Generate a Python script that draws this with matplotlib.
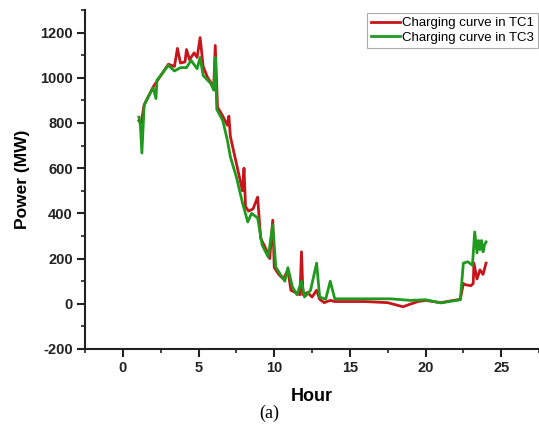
import matplotlib
matplotlib.use("Agg")
import matplotlib.pyplot as plt
from matplotlib.ticker import MultipleLocator

# charging curve in TC1 (red)
hours_tc1 = [1.05, 1.2, 1.4, 1.7, 2.0, 2.3, 2.5, 3.0, 3.4, 3.6, 3.8, 4.1, 4.2, 4.4,
             4.7, 4.9, 5.1, 5.3, 5.6, 6.0, 6.1, 6.25, 6.6, 6.9, 7.0, 7.1, 7.5, 7.9,
             8.0, 8.1, 8.3, 8.6, 8.9, 9.1, 9.4, 9.7, 9.9, 10.0, 10.3, 10.6, 10.9,
             11.1, 11.4, 11.7, 11.8, 11.9, 12.2, 12.5, 12.8, 13.0, 13.3, 13.7, 14.0,
             16.0, 17.5, 18.5, 19.5, 20.0, 21.0, 22.3, 22.5, 22.6, 23.0, 23.15,
             23.2, 23.4, 23.6, 23.8, 24.0]
power_tc1 = [810, 800, 880, 920, 960, 990, 1010, 1060, 1050, 1130, 1065, 1070, 1125, 1080,
             1110, 1090, 1178, 1050, 1000, 960, 1143, 870, 830, 790, 830, 740, 620, 500,
             600, 430, 410, 420, 472, 290, 250, 200, 370, 160, 130, 110, 150,
             60, 50, 40, 230, 40, 50, 30, 60, 20, 5, 15, 10,
             10, 5, -13, 10, 15, 5, 20, 90, 85, 80, 90,
             180, 110, 150, 130, 180]

# charging curve in TC3 (green)
hours_tc3 = [1.05, 1.15, 1.25, 1.4, 1.7, 2.0, 2.18, 2.25, 2.4, 3.0, 3.4, 3.8, 4.2, 4.5,
             4.9, 5.1, 5.3, 5.8, 6.0, 6.1, 6.2, 6.6, 6.9, 7.1, 7.5, 7.9, 8.25, 8.5,
             8.9, 9.2, 9.6, 9.9, 10.1, 10.4, 10.7, 10.9, 11.2, 11.5, 11.8, 12.0, 12.4,
             12.8, 13.0, 13.4, 13.7, 14.0, 16.0, 17.7, 19.0, 20.0, 21.0, 22.3, 22.5,
             22.8, 23.1, 23.25, 23.4, 23.5, 23.6, 23.7, 23.8, 23.9, 24.0]
power_tc3 = [826, 790, 667, 878, 920, 955, 908, 990, 1002, 1055, 1030, 1045, 1045, 1077,
             1040, 1090, 1010, 975, 945, 1090, 860, 810, 724, 650, 560, 446, 362, 400,
             380, 260, 207, 350, 163, 130, 100, 160, 75, 40, 100, 30, 60,
             180, 30, 20, 100, 22, 22, 22, 15, 18, 4, 18, 180,
             186, 170, 318, 225, 280, 240, 280, 230, 260, 274]

plt.rcParams['font.family'] = ['Liberation Sans', 'DejaVu Sans']
plt.rcParams['axes.unicode_minus'] = False

fig = plt.figure(figsize=(5.39, 4.33), dpi=100)
ax = fig.add_axes([0.158, 0.194, 0.842, 0.783])

ax.plot(hours_tc1, power_tc1, color='#c8151b', lw=2, label='Charging curve in TC1')
ax.plot(hours_tc3, power_tc3, color='#1f9a1f', lw=2, label='Charging curve in TC3')

ax.set_xlim(-2.5, 27.5)
ax.set_ylim(-200, 1300)
ax.xaxis.set_major_locator(MultipleLocator(5))
ax.xaxis.set_minor_locator(MultipleLocator(2.5))
ax.yaxis.set_major_locator(MultipleLocator(200))
ax.yaxis.set_minor_locator(MultipleLocator(100))

for side in ['top', 'right']:
    ax.spines[side].set_visible(False)
for side in ['left', 'bottom']:
    ax.spines[side].set_linewidth(1.5)
    ax.spines[side].set_color('#222222')

ax.tick_params(which='major', direction='out', length=6, width=1.5, labelsize=10.5,
               colors='#222222', pad=3)
ax.tick_params(which='minor', direction='out', length=3, width=1.2, colors='#222222')
for lab in ax.get_xticklabels() + ax.get_yticklabels():
    lab.set_fontweight('bold')

ax.set_xlabel('Hour', fontsize=13, fontweight='bold', labelpad=9)
ax.set_ylabel('Power (MW)', fontsize=12.5, fontweight='bold', labelpad=7)

leg = ax.legend(loc='upper right', bbox_to_anchor=(1.0, 0.995), fontsize=9.5, frameon=True,
                fancybox=False, borderpad=0.3, handlelength=2.2, handletextpad=0.1,
                labelspacing=0.2, borderaxespad=0.1)
leg.get_frame().set_edgecolor('#999999')
leg.get_frame().set_linewidth(0.8)

fig.text(0.5, 0.035, '(a)', fontsize=13, family='Liberation Serif', ha='center')

fig.savefig('out.png', dpi=100)
